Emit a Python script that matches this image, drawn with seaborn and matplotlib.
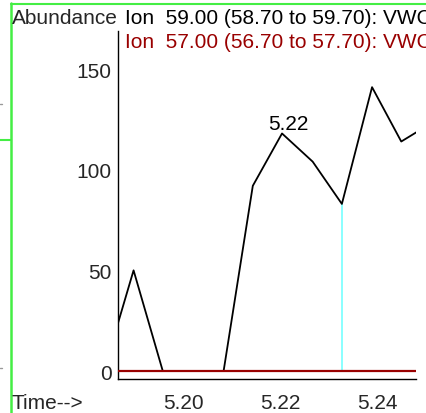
import matplotlib
matplotlib.use("Agg")
import matplotlib.pyplot as plt
from matplotlib.lines import Line2D
from matplotlib.ticker import MultipleLocator, FormatStrFormatter
import seaborn as sns
import pandas as pd

# ---- data ----
times = [5.1837, 5.1898, 5.1958, 5.2020, 5.2083, 5.2143, 5.2203,
         5.2266, 5.2326, 5.2388, 5.2448, 5.2509]
ion59 = [0, 50, 0, 0, 0, 92, 118, 104, 83, 141, 114, 123]
ion57 = [0, 0, 0, 0, 0, 0, 0, 0, 0, 0, 0, 0]
peak_label = "5.22"
peak_time = 5.2203
peak_value = 118
marker_time = 5.2326
marker_value = 83
title59 = "Ion  59.00 (58.70 to 59.70): VWC"
title57 = "Ion  57.00 (56.70 to 57.70): VWC"

sns.set_style("white")
plt.rcParams['font.family'] = ['Liberation Sans', 'DejaVu Sans']
FS = 15

W, H = 426, 414
fig = plt.figure(figsize=(W / 100, H / 100), dpi=100)
ax = fig.add_axes([118 / W, 34 / H, (416 - 118) / W, (380 - 32) / H])

df = pd.DataFrame({"time": times, "ion59": ion59, "ion57": ion57})

ax.vlines(marker_time, 0, marker_value, color="#80ffff", lw=1.3, zorder=1)
sns.lineplot(data=df, x="time", y="ion59", ax=ax, color="black", lw=1.3,
             zorder=2, sort=False)
sns.lineplot(data=df, x="time", y="ion57", ax=ax, color="#990000", lw=1.6,
             zorder=3, sort=False)

ax.set_xlim(5.18660, 5.24783)
ax.set_ylim(-3.97, 168.9)
ax.set_xlabel("")
ax.set_ylabel("")

for s in ["top", "right"]:
    ax.spines[s].set_visible(False)
for s in ["left", "bottom"]:
    ax.spines[s].set_color("black")
    ax.spines[s].set_linewidth(1.0)

ax.xaxis.set_major_locator(MultipleLocator(0.02))
ax.xaxis.set_minor_locator(MultipleLocator(0.004))
ax.xaxis.set_major_formatter(FormatStrFormatter("%.2f"))
ax.yaxis.set_major_locator(MultipleLocator(50))
ax.yaxis.set_minor_locator(MultipleLocator(10))

ax.tick_params(axis="x", which="major", direction="out", length=9, width=1,
               pad=1, labelsize=FS, color="black")
ax.tick_params(axis="x", which="minor", direction="out", length=4.5, width=1,
               color="black")
ax.tick_params(axis="y", which="major", direction="out", length=3.5, width=1,
               pad=1, labelsize=FS, color="black")
ax.tick_params(axis="y", which="minor", direction="out", length=2, width=1,
               color="black")
ax.patch.set_alpha(0)

ax.annotate(peak_label, xy=(peak_time, peak_value), xytext=(4.5, 3),
            textcoords="offset points", ha="center", va="baseline",
            fontsize=FS, color="black")

def fx(px):
    return px / W

def fy(py):
    return 1 - py / H

fig.text(fx(12), fy(18), "Abundance", fontsize=FS, va="center", ha="left")
fig.text(fx(125), fy(18), title59, fontsize=FS, va="center", ha="left",
         color="black")
fig.text(fx(125), fy(43), title57, fontsize=FS, va="center", ha="left",
         color="#990000")
fig.text(fx(12), fy(404), "Time-->", fontsize=FS, va="center", ha="left")

green = "#44ee44"
fig.add_artist(Line2D([fx(11), fx(11)], [fy(4), fy(414)], color=green, lw=1.8))
fig.add_artist(Line2D([fx(11), fx(426)], [fy(4.5), fy(4.5)], color=green, lw=1.5))
fig.add_artist(Line2D([fx(0), fx(11)], [fy(141), fy(141)], color=green, lw=1.5))
fig.add_artist(Line2D([fx(0), fx(1.5)], [fy(105), fy(105)], color="#999999", lw=1))
fig.add_artist(Line2D([fx(0), fx(1.5)], [fy(369), fy(369)], color="#999999", lw=1))

fig.savefig("out.png", dpi=100)
